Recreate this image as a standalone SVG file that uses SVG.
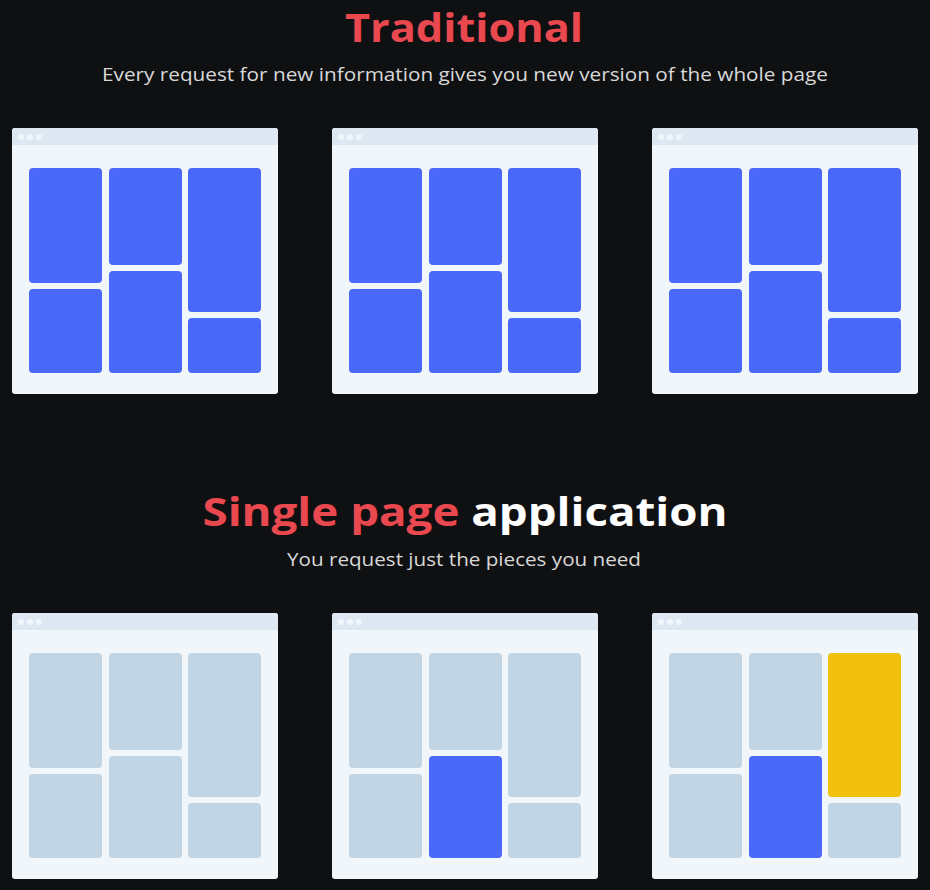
<svg xmlns="http://www.w3.org/2000/svg" xmlns:xlink="http://www.w3.org/1999/xlink" width="930" height="890" viewBox="0 0 930 890">
  <defs>
    <style>
      .bg { fill: #0f1012; }
      .title { font-family: "Open Sans", "Liberation Sans", sans-serif; font-weight: 700; font-size: 40px; text-anchor: middle; }
      .red { fill: #e9484f; }
      .white { fill: #ffffff; }
      .sub { font-family: "Open Sans", "Liberation Sans", sans-serif; font-size: 18px; fill: #d8d8d8; text-anchor: middle; }
      .win { fill: #f1f6fa; }
      .bar { fill: #dde8f2; }
      .dot { fill: #f1f6fa; }
      .blue { fill: #4a69fb; }
      .grey { fill: #c2d5e4; }
      .yellow { fill: #f2c00f; }
    </style>
    <!-- browser window frame: body, title bar and three dots -->
    <g id="frame">
      <rect class="win" x="0" y="0" width="266" height="266" rx="3"/>
      <path class="bar" d="M3 0 H263 A3 3 0 0 1 266 3 V17 H0 V3 A3 3 0 0 1 3 0 Z"/>
      <circle class="dot" cx="9" cy="9" r="3"/>
      <circle class="dot" cx="18" cy="9" r="3"/>
      <circle class="dot" cx="27" cy="9" r="3"/>
    </g>
  </defs>

  <rect class="bg" x="0" y="0" width="930" height="890"/>

  <!-- Traditional section -->
  <text class="title red" x="464" y="42" textLength="238" lengthAdjust="spacingAndGlyphs">Traditional</text>
  <text class="sub" x="465" y="81" textLength="726" lengthAdjust="spacingAndGlyphs">Every request for new information gives you new version of the whole page</text>

  <g id="trad-1" transform="translate(12,128)">
    <use xlink:href="#frame"/>
    <rect class="blue" x="17" y="40" width="73" height="115" rx="4"/>
    <rect class="blue" x="17" y="161" width="73" height="84" rx="4"/>
    <rect class="blue" x="97" y="40" width="73" height="97" rx="4"/>
    <rect class="blue" x="97" y="143" width="73" height="102" rx="4"/>
    <rect class="blue" x="176" y="40" width="73" height="144" rx="4"/>
    <rect class="blue" x="176" y="190" width="73" height="55" rx="4"/>
  </g>
  <g id="trad-2" transform="translate(332,128)">
    <use xlink:href="#frame"/>
    <rect class="blue" x="17" y="40" width="73" height="115" rx="4"/>
    <rect class="blue" x="17" y="161" width="73" height="84" rx="4"/>
    <rect class="blue" x="97" y="40" width="73" height="97" rx="4"/>
    <rect class="blue" x="97" y="143" width="73" height="102" rx="4"/>
    <rect class="blue" x="176" y="40" width="73" height="144" rx="4"/>
    <rect class="blue" x="176" y="190" width="73" height="55" rx="4"/>
  </g>
  <g id="trad-3" transform="translate(652,128)">
    <use xlink:href="#frame"/>
    <rect class="blue" x="17" y="40" width="73" height="115" rx="4"/>
    <rect class="blue" x="17" y="161" width="73" height="84" rx="4"/>
    <rect class="blue" x="97" y="40" width="73" height="97" rx="4"/>
    <rect class="blue" x="97" y="143" width="73" height="102" rx="4"/>
    <rect class="blue" x="176" y="40" width="73" height="144" rx="4"/>
    <rect class="blue" x="176" y="190" width="73" height="55" rx="4"/>
  </g>

  <!-- Single page application section -->
  <text class="title" x="465" y="526" textLength="525" lengthAdjust="spacingAndGlyphs"><tspan class="red">Single page</tspan> <tspan class="white">application</tspan></text>
  <text class="sub" x="464" y="566" textLength="354" lengthAdjust="spacingAndGlyphs">You request just the pieces you need</text>

  <g id="spa-1" transform="translate(12,613)">
    <use xlink:href="#frame"/>
    <rect class="grey" x="17" y="40" width="73" height="115" rx="4"/>
    <rect class="grey" x="17" y="161" width="73" height="84" rx="4"/>
    <rect class="grey" x="97" y="40" width="73" height="97" rx="4"/>
    <rect class="grey" x="97" y="143" width="73" height="102" rx="4"/>
    <rect class="grey" x="176" y="40" width="73" height="144" rx="4"/>
    <rect class="grey" x="176" y="190" width="73" height="55" rx="4"/>
  </g>
  <g id="spa-2" transform="translate(332,613)">
    <use xlink:href="#frame"/>
    <rect class="grey" x="17" y="40" width="73" height="115" rx="4"/>
    <rect class="grey" x="17" y="161" width="73" height="84" rx="4"/>
    <rect class="grey" x="97" y="40" width="73" height="97" rx="4"/>
    <rect class="blue" x="97" y="143" width="73" height="102" rx="4"/>
    <rect class="grey" x="176" y="40" width="73" height="144" rx="4"/>
    <rect class="grey" x="176" y="190" width="73" height="55" rx="4"/>
  </g>
  <g id="spa-3" transform="translate(652,613)">
    <use xlink:href="#frame"/>
    <rect class="grey" x="17" y="40" width="73" height="115" rx="4"/>
    <rect class="grey" x="17" y="161" width="73" height="84" rx="4"/>
    <rect class="grey" x="97" y="40" width="73" height="97" rx="4"/>
    <rect class="blue" x="97" y="143" width="73" height="102" rx="4"/>
    <rect class="yellow" x="176" y="40" width="73" height="144" rx="4"/>
    <rect class="grey" x="176" y="190" width="73" height="55" rx="4"/>
  </g>
</svg>
